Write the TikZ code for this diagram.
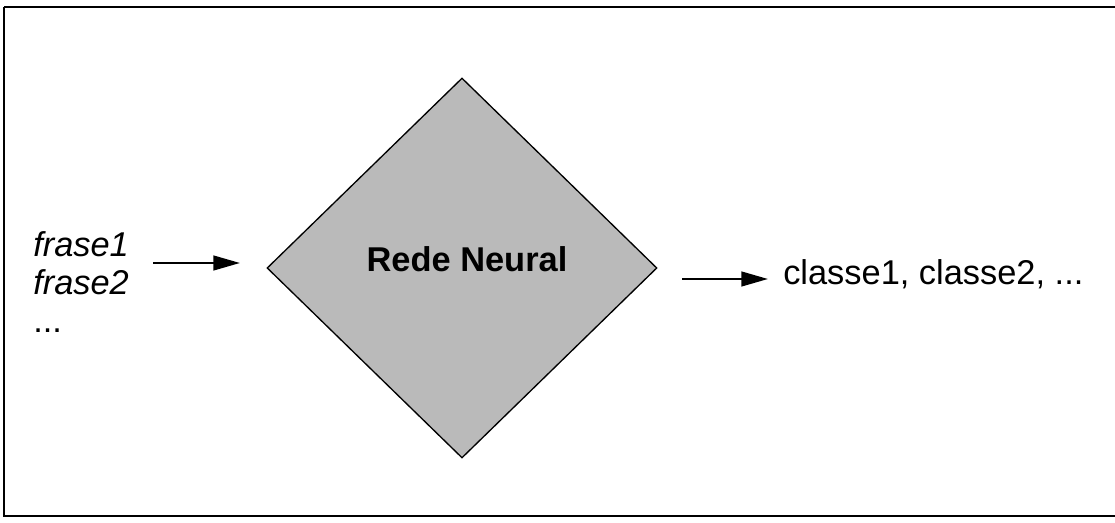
\documentclass[tikz,border=0pt]{standalone}
\usepackage{fontspec}
\setmainfont{Liberation Sans}
\usetikzlibrary{shapes.geometric,arrows.meta}
\definecolor{netfill}{RGB}{186,186,186}
\begin{document}
\begin{tikzpicture}[x=0.75pt,y=-0.75pt,
  frameline/.style={draw=black},
  flowarrow/.style={draw=black,line width=1.8pt,
    -{Triangle[length=20pt,width=11pt]}},
  netbox/.style={diamond,draw=black,line width=1pt,fill=netfill,
    minimum width=390*0.75pt,minimum height=380*0.75pt,inner sep=0pt},
  lbl/.style={inner sep=0pt,font=\fontsize{25.8}{28.5}\selectfont}]
  \useasboundingbox (0,0) rectangle (1115,523);
  % outer frame (right edge lies outside the page)
  \draw[frameline,line width=2.2pt] (4,7) -- (1130,7);
  \draw[frameline,line width=1.5pt] (4,7) -- (4,516) -- (1130,516);
  % network block
  \node[netbox] (net) at (462,268) {};
  \node[lbl,font=\fontsize{25.8}{30}\selectfont\bfseries,anchor=base]
    (netname) at (467,272) {Rede Neural};
  % inputs, one per line (base anchor sits on the last line)
  \node[lbl,anchor=base west,align=left] (inp) at (33,333)
    {\itshape frase1\\\itshape frase2\\...};
  % outputs
  \node[lbl,anchor=base west] (outp) at (783,285) {classe1, classe2, ...};
  % connectors
  \coordinate (inA) at (153,263);
  \coordinate (inB) at (240,263);
  \coordinate (outA) at (682,279);
  \coordinate (outB) at (768,279);
  \draw[flowarrow] (inA) -- (inB);
  \draw[flowarrow] (outA) -- (outB);
\end{tikzpicture}
\end{document}
